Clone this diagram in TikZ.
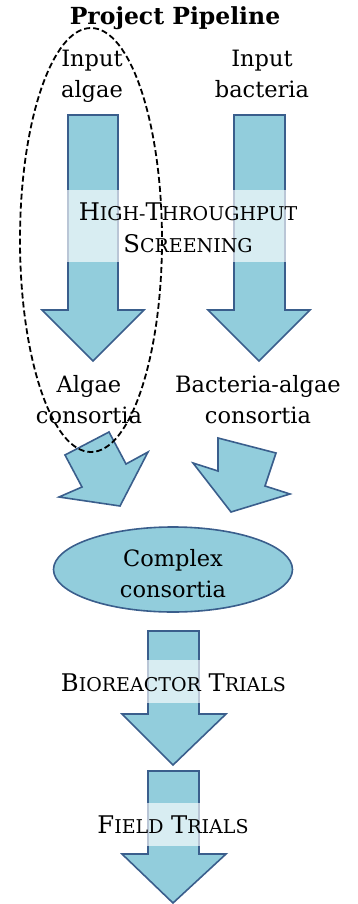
\documentclass[tikz,border=0pt]{standalone}
\usepackage{fontspec}
\setmainfont{DejaVu Serif}
\usetikzlibrary{shapes.geometric}
\definecolor{arrfill}{RGB}{146,205,220}
\definecolor{arrline}{RGB}{58,94,140}
\newcommand\fsc[1]{{\fontsize{19}{19}\selectfont #1}}
\tikzset{
  bigarrow/.style={fill=arrfill,draw=arrline,line width=1.6pt,line join=miter},
  band/.style={fill=white,fill opacity=0.65,draw=none},
  lbl/.style={align=center,anchor=base,inner sep=0pt,font=\fontsize{22.5}{31}\selectfont},
  sclbl/.style={align=center,anchor=base,inner sep=0pt,font=\fontsize{24.3}{32}\selectfont},
  ttl/.style={anchor=base,inner sep=0pt,font=\fontsize{23.5}{28}\selectfont\bfseries},
  group/.style={draw=black,dash pattern=on 6pt off 3pt,line width=1.8pt}
}
\begin{document}
\begin{tikzpicture}[x=1pt,y=-1pt]
\useasboundingbox (0,0) rectangle (357,904);
% top arrows
\draw[bigarrow] (68,115) -- (118,115) -- (118,310) -- (144,310) -- (93,361) -- (42,310) -- (68,310) -- cycle;
\draw[bigarrow] (234,115) -- (285,115) -- (285,310) -- (310,310) -- (259,361) -- (208,310) -- (234,310) -- cycle;
\fill[band] (67,190) rectangle (119,262);
\fill[band] (233,190) rectangle (286,262);
% diagonal arrows
\draw[bigarrow] (65,455) -- (109,432) -- (126,464) -- (148,452) -- (120,506) -- (59,497) -- (82,487) -- cycle;
\draw[bigarrow] (218,438) -- (276,453) -- (265,486) -- (290,494) -- (231,512) -- (193,463) -- (218,471) -- cycle;
% complex ellipse
\node[ellipse,fill=arrfill,draw=arrline,line width=1.6pt,minimum width=239pt,minimum height=85pt,inner sep=0pt] (cplx) at (173,569.5) {};
% bottom arrows
\draw[bigarrow] (148,631) -- (199,631) -- (199,714) -- (226,714) -- (173,765) -- (122,714) -- (148,714) -- cycle;
\fill[band] (147,660) rectangle (200,703);
\draw[bigarrow] (148,771) -- (199,771) -- (199,854) -- (226,854) -- (173,903) -- (122,854) -- (148,854) -- cycle;
\fill[band] (147,803) rectangle (200,846);
% texts
\node[ttl] (title) at (175,25) {Project Pipeline};
\node[lbl] (inA) at (92,98) {Input\\algae};
\node[lbl] (inB) at (262,98) {Input\\bacteria};
\node[sclbl] (hts) at (188,252) {H\fsc{IGH-}T\fsc{HROUGHPUT}\\S\fsc{CREENING}};
\node[lbl] (outA) at (89,423) {Algae\\consortia};
\node[lbl] (outB) at (258,423) {Bacteria-algae\\consortia};
\node[lbl] (cplxtxt) at (173,597) {Complex\\consortia};
\node[sclbl] (bio) at (173.5,691) {B\fsc{IOREACTOR} T\fsc{RIALS}};
\node[sclbl] (field) at (173,833) {F\fsc{IELD} T\fsc{RIALS}};
% dashed group ellipse
\draw[group] (91,240) ellipse [x radius=71, y radius=212];
\end{tikzpicture}
\end{document}
